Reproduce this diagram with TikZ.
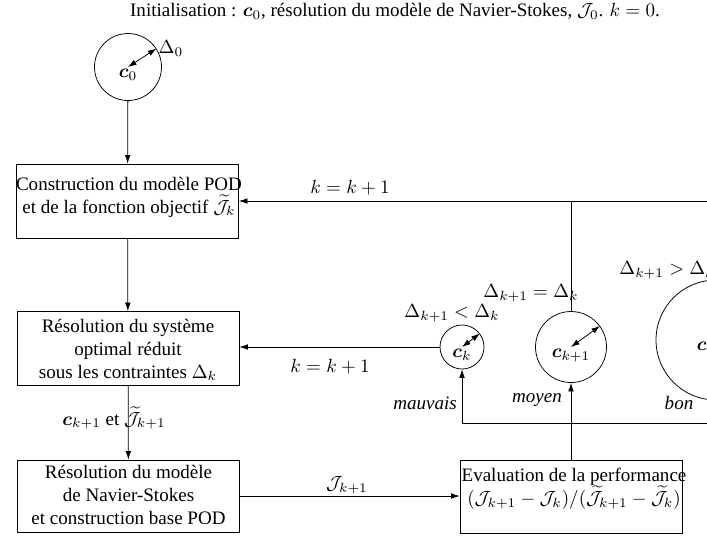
\documentclass[tikz,border=0pt]{standalone}
\usepackage{amsmath}
\usepackage{fontspec}
\setmainfont{Liberation Serif}
\usetikzlibrary{arrows.meta}
\newcommand{\pxu}{0.525pt}
\begin{document}
\begin{tikzpicture}[x=0.525pt,y=-0.525pt,
  >={Latex[length=4.5pt,width=3pt]},
  every node/.style={font=\fontsize{10}{12}\selectfont},
  box/.style={draw, rectangle, inner sep=0, minimum width=222*\pxu, minimum height=74*\pxu},
  circ/.style={draw, circle, inner sep=0},
  txt/.style={align=center, inner sep=0},
  lab/.style={inner sep=1pt}]
\useasboundingbox (0,0) rectangle (707,536);
\begin{scope}
\clip (0,0) rectangle (707,536);
% title
\node[lab] (title) at (395,11) {Initialisation : $\boldsymbol{c}_0$, résolution du modèle de Navier-Stokes, $\mathcal{J}_0$. $k=0$.};
% initial circle
\node[circ, minimum size=67*\pxu] (c0) at (128,67) {};
\node[anchor=north, inner sep=1pt] (c0l) at (c0.center) {$\boldsymbol{c}_0$};
\draw[<->] (c0.center) -- (c0.33);
\node[anchor=west, inner sep=1pt] (d0) at (c0.33) {$\Delta_0$};
% boxes
\node[box] (b1) at (127.5,201) {};
\node[txt] (b1t) at (129,197) {Construction du modèle POD\\et de la fonction objectif $\widetilde{\mathcal{J}}_k$};
\node[box] (b2) at (128,348.5) {};
\node[txt] (b2t) at (128,350) {Résolution du système\\optimal réduit\\sous les contraintes $\Delta_k$};
\node[box, minimum height=72*\pxu] (b3) at (128.5,496) {};
\node[txt] (b3t) at (128.5,495) {Résolution du modèle\\de Navier-Stokes\\et construction base POD};
\node[box, minimum height=73*\pxu] (b4) at (571,496.5) {};
\node[txt] (b4t) at (574,489) {Evaluation de la performance\\$(\mathcal{J}_{k+1}-\mathcal{J}_k)/(\widetilde{\mathcal{J}}_{k+1}-\widetilde{\mathcal{J}}_k)$};
% trust-region circles
\node[circ, minimum size=44*\pxu] (ck) at (462,347) {};
\node[anchor=north, inner sep=1pt] (ckl) at (ck.center) {$\boldsymbol{c}_k$};
\draw[<->] (ck.center) -- (ck.37);
\node[circ, minimum size=71*\pxu] (ck1) at (571,347) {};
\node[anchor=north, inner sep=1pt] (ck1l) at (ck1.center) {$\boldsymbol{c}_{k+1}$};
\draw[<->] (ck1.center) -- (ck1.36);
\node[circ, minimum size=120*\pxu] (cb) at (716,340) {};
\node[anchor=north, inner sep=1pt] (cbl) at (cb.center) {$\boldsymbol{c}_{k+1}$};
\draw[<->] (cb.center) -- (cb.36);
% circle labels
\node[lab] (lk) at (452,313) {$\Delta_{k+1}<\Delta_k$};
\node[lab] (lk1) at (531,293) {$\Delta_{k+1}=\Delta_k$};
\node[lab] (lkb) at (667,270) {$\Delta_{k+1}>\Delta_k$};
\node[lab] (lm) at (425,403) {\textit{mauvais}};
\node[lab] (lmo) at (537,400) {\textit{moyen}};
\node[lab] (lb) at (679,403) {\textit{bon}};
% connectors
\draw[->] (c0) -- (b1);
\draw[->] (b1) -- (b2);
\draw[->] (b2) -- (b3);
\node[lab] (lc) at (114,418) {$\boldsymbol{c}_{k+1}$ et $\widetilde{\mathcal{J}}_{k+1}$};
\draw[->] (b3.east) -- (b4.west |- b3.east);
\node[lab] (lj) at (347,485) {$\mathcal{J}_{k+1}$};
\coordinate (split) at (571,423);
\draw[->] (b4) -- (ck1);
\draw (ck.south |- split) -- (cb.south |- split);
\draw[->] (ck.south |- split) -- (ck.south);
\draw[->] (cb.south |- split) -- (cb.south);
\draw[->] (ck.west) -- (b2.east |- ck.west);
\node[lab] (lkk2) at (330,367) {$k=k+1$};
\draw[->] (ck1.north) |- (b1.east);
\draw (cb.north) |- (ck1.north |- b1.east);
\node[lab] (lkk1) at (350,188) {$k=k+1$};
\end{scope}
\end{tikzpicture}
\end{document}
